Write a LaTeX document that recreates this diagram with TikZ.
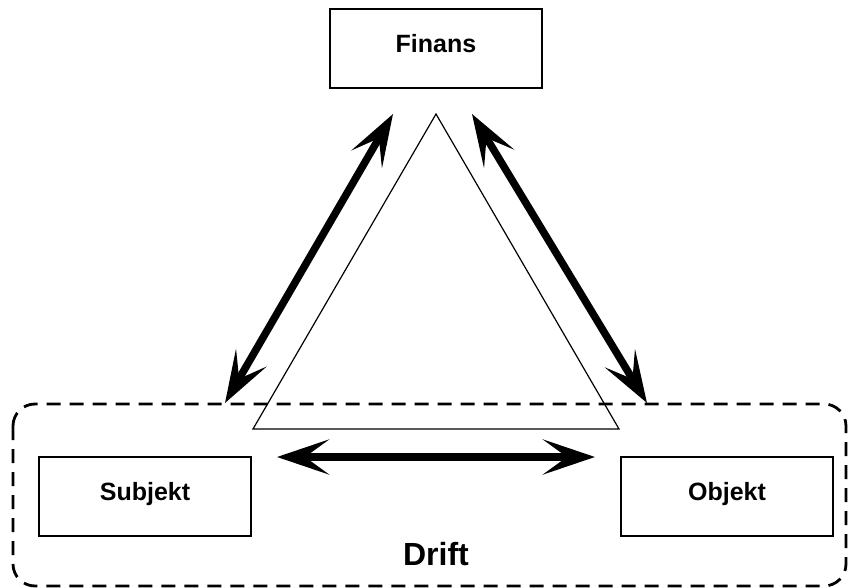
\documentclass[tikz,border=0pt]{standalone}
\usepackage{fontspec}
\setmainfont{Liberation Sans}
\usetikzlibrary{arrows.meta}
\begin{document}
\begin{tikzpicture}[x=1pt,y=-1pt,
  lbl/.style={draw, line width=1.5pt, minimum width=212pt, minimum height=79pt, inner sep=0pt,
    font=\fontsize{25}{28}\selectfont\bfseries, text height=0.72em, text depth=0pt},
  bigarrow/.style={line width=7.5pt,
    {Stealth[length=52pt,width=35pt,inset=24pt]}-{Stealth[length=52pt,width=35pt,inset=24pt]}},
  drift/.style={dashed, line width=2.8pt, dash pattern=on 14pt off 9pt, rounded corners=22pt},
  tri/.style={line width=1.2pt, line join=miter},
]
\useasboundingbox (0,0) rectangle (848,588);
% Drift region
\draw[drift] (13,404) rectangle (846,586);
\node[anchor=base, font=\fontsize{32}{36}\selectfont\bfseries] (driftlbl) at (436,565) {Drift};
% boxes
\node[lbl] (finans) at (436,48.5) {Finans};
\node[lbl] (subjekt) at (145,496.5) {Subjekt};
\node[lbl] (objekt) at (727,496.5) {Objekt};
% triangle
\coordinate (ta) at (436,114);
\coordinate (tb) at (253,429);
\coordinate (tc) at (619,429);
\draw[tri] (ta) -- (tb) -- (tc) -- cycle;
% arrow ends
\coordinate (la) at (393,114);
\coordinate (lb) at (225,403);
\coordinate (ra) at (472,114);
\coordinate (rb) at (647,403);
\coordinate (ha) at (277,457);
\coordinate (hb) at (595,457);
\draw[bigarrow] (la) -- (lb);
\draw[bigarrow] (ra) -- (rb);
\draw[bigarrow] (ha) -- (hb);
\end{tikzpicture}
\end{document}
